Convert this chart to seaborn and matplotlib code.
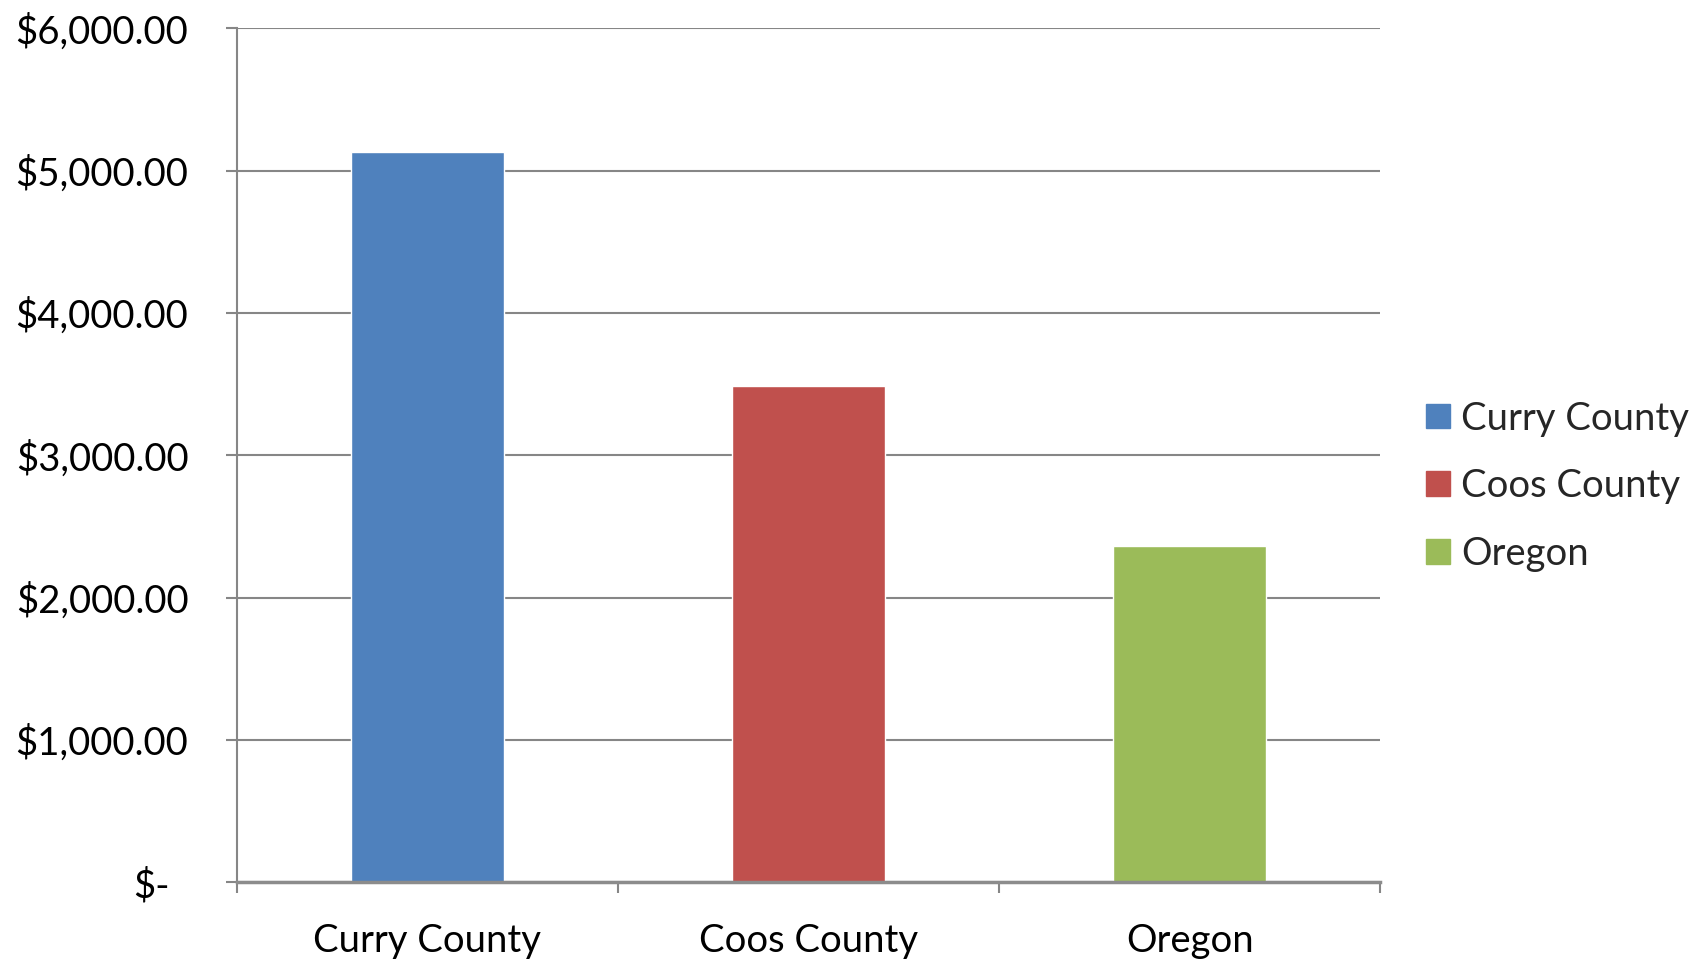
import matplotlib
matplotlib.use("Agg")
import matplotlib.pyplot as plt
import matplotlib.transforms as mtransforms
from matplotlib.ticker import FixedLocator, FuncFormatter
import seaborn as sns
import pandas as pd

# Values per area
regions = ["Curry County", "Coos County", "Oregon"]
amounts = [5128, 3485, 2360]
bar_colors = ["#4F81BD", "#C0504D", "#9BBB59"]
y_ticks = [0, 1000, 2000, 3000, 4000, 5000, 6000]

sns.set_theme(style="white")
plt.rcParams["font.family"] = ["Lato", "DejaVu Sans"]

df = pd.DataFrame({"region": regions, "amount": amounts})

fig = plt.figure(figsize=(17.06, 9.6), dpi=100)
ax = fig.add_axes([0.1389, 0.0808, 0.6701, 0.8897])

sns.barplot(data=df, x="region", y="amount", hue="region", order=regions,
            hue_order=regions, palette=bar_colors, width=0.4, dodge=False,
            saturation=1, legend=False, ax=ax)

grid_c = "#868686"
fs = 27.5
ax.set_xlim(-0.5, len(regions) - 0.5)
ax.set_ylim(0, 6000)
ax.yaxis.set_major_locator(FixedLocator(y_ticks))


def money(v, _pos):
    if v == 0:
        return "$-"
    return "${:,.2f}".format(v)


ax.yaxis.set_major_formatter(FuncFormatter(money))
ax.yaxis.grid(True, color=grid_c, linewidth=1.5)
ax.set_axisbelow(True)
for side in ["top", "right"]:
    ax.spines[side].set_visible(False)
ax.spines["left"].set_color(grid_c)
ax.spines["left"].set_linewidth(1.5)
ax.spines["bottom"].set_color("#8c8c8c")
ax.spines["bottom"].set_linewidth(2.5)

ax.tick_params(axis="y", which="major", direction="out", length=8, width=1.5,
               color=grid_c, pad=27, labelsize=fs, labelcolor="black", left=True)
# category boundaries carry the x tick marks
ax.set_xticks([i - 0.5 for i in range(len(regions) + 1)], minor=False)
ax.set_xticklabels([""] * (len(regions) + 1))
ax.set_xticks(range(len(regions)), minor=True)
ax.set_xticklabels(regions, minor=True)
ax.tick_params(axis="x", which="major", direction="out", length=8, width=1.5,
               color=grid_c, bottom=True)
ax.tick_params(axis="x", which="minor", length=0, pad=29, labelsize=fs,
               labelcolor="black")
ax.set_xlabel("")
ax.set_ylabel("")

# the zero label sits a little left of the others
zero_lbl = ax.get_yticklabels()[0]
zero_lbl.set_transform(zero_lbl.get_transform() +
                       mtransforms.ScaledTranslation(-19 / 100, 0, fig.dpi_scale_trans))

handles = [plt.Rectangle((0, 0), 1, 1, color=c) for c in bar_colors]
fig.legend(handles, regions, loc="center left", bbox_to_anchor=(0.816, 0.4935),
           frameon=False, fontsize=fs, handlelength=0.62, handleheight=0.62,
           handletextpad=0.28, labelspacing=0.83)

fig.savefig("out.png", dpi=100)
